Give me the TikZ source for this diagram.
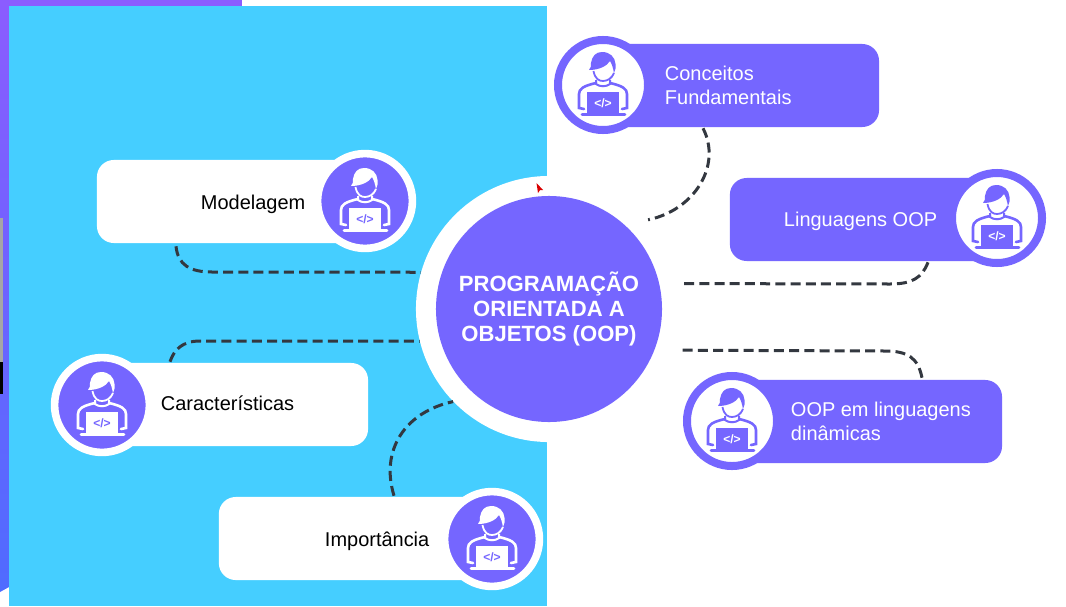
\documentclass[tikz,border=0pt]{standalone}
\usepackage{fontspec}
\setmainfont{Liberation Sans}
\usetikzlibrary{calc}
\definecolor{skyback}{HTML}{45CEFF}
\definecolor{oopviolet}{HTML}{7566FF}
\definecolor{stripviolet}{HTML}{8B5CFF}
\definecolor{stripblue}{HTML}{4F6BFF}
\definecolor{linkgray}{HTML}{333840}
\tikzset{
	pillwhite/.style={shape=rectangle, rounded corners=0.42cm, fill=white, minimum height=2.075cm},
	pillviolet/.style={shape=rectangle, rounded corners=0.42cm, fill=oopviolet, minimum height=2.075cm},
	iconwhite/.style={shape=circle, fill=oopviolet, draw=white, line width=0.19cm, minimum size=2.37cm},
	iconviolet/.style={shape=circle, fill=white, draw=oopviolet, line width=0.2cm, minimum size=2.25cm},
	itemtext/.style={font=\fontsize{14.2}{17}\selectfont, align=left},
	linkdash/.style={draw=linkgray, line width=0.075cm, dash pattern=on 0.25cm off 0.13cm},
	codetag/.style={inner sep=0pt, font=\fontsize{8.6}{9}\selectfont\bfseries},
}
% coder figure: name, x, y, line colour, colour behind it
\newcommand{\codericon}[5]{
	\begin{scope}[shift={(#2,#3)}]
		\fill[#4] (-14,-15) .. controls (-12,-17) and (-12,-19) .. (-12,-22) .. controls (-11,-29) and (-7,-33) .. (-1,-33) .. controls (7,-33) and (12,-28) .. (12.5,-21) .. controls (13,-18) and (12.5,-15) .. (11,-12) .. controls (10,-17) and (9,-21) .. (7,-24) .. controls (4,-19) and (-4,-15) .. (-14,-15);
		\draw[#4, line width=0.045cm] (-9.5,-14) .. controls (-8,-6) and (-4,-4) .. (0,-4) .. controls (5,-4) and (9,-7) .. (11,-12);
		\draw[#4, line width=0.05cm] (-7,-5) -- (-7,-1) .. controls (-3,2) and (3,2) .. (7,-1) -- (7,-5);
		\draw[#4, line width=0.065cm, line cap=round] (-19,24) -- (-24,23) -- (-24,9) .. controls (-24,4) and (-20,1) .. (-7,-2);
		\draw[#4, line width=0.065cm, line cap=round] (19,24) -- (24,23) -- (24,9) .. controls (24,4) and (20,1) .. (7,-2);
		\fill[#4] (-16,7) rectangle (16,28);
		\draw[#4, line width=0.065cm, line cap=round] (-21,29.5) -- (22,29.5);
		\node[codetag, text=#5] (#1code) at (0,18) {</>};
	\end{scope}
}

\begin{document}
\begin{tikzpicture}[x=0.025cm, y=-0.025cm]
	\useasboundingbox (0,0) rectangle (1066,606);
	\fill[white] (0,0) rectangle (1066,606);

	% what is left of the slide behind
	\shade[top color=stripviolet, bottom color=stripblue] (0,0) -- (9,0) -- (9,587) -- (0,592) -- cycle;
	\fill[stripviolet] (0,0) rectangle (242,6);
	\fill[gray!70] (0,218) rectangle (3,362);
	\fill[black] (0,362) rectangle (3,394);
	\fill[skyback] (9,6) rectangle (547,606);

	% centre
	\draw (549,309) node[shape=circle, fill=white, inner sep=0pt, minimum size=6.65cm](ring){};
	\fill[white] (547,176) rectangle (560,442);
	\draw (549,309) node[shape=circle, fill=oopviolet, inner sep=0pt, minimum size=5.65cm, text=white, align=center, font=\fontsize{15.7}{17.5}\selectfont\bfseries](hub){PROGRAMAÇÃO\\ORIENTADA A\\OBJETOS (OOP)};

	% left items
	\draw (231,201.5) node[pillwhite, minimum width=6.7cm](model){};
	\draw (365,201) node[iconwhite](modelicon){};
	\codericon{model}{365}{201}{white}{oopviolet}
	\draw (196,204) node[itemtext, anchor=west](modeltext){Modelagem};

	\draw (235,404.5) node[pillwhite, minimum width=6.65cm](carac){};
	\draw (102,405) node[iconwhite](caracicon){};
	\codericon{carac}{102}{405}{white}{oopviolet}
	\draw (156,403.5) node[itemtext, anchor=west](caractext){Características};

	\draw (355.5,538.5) node[pillwhite, minimum width=6.83cm](impor){};
	\draw (492,539) node[iconwhite](imporicon){};
	\codericon{impor}{492}{539}{white}{oopviolet}
	\draw (320,541) node[itemtext, anchor=west](importext){Importância};

	% right items
	\draw (741,85.5) node[pillviolet, minimum width=6.9cm](conc){};
	\draw (603,85) node[iconviolet](concicon){};
	\codericon{conc}{603}{85}{oopviolet}{white}
	\draw (660,85.5) node[itemtext, anchor=west, text=white](conctext){Conceitos\\Fundamentais};

	\draw (863.5,219.5) node[pillviolet, minimum width=6.68cm](ling){};
	\draw (997,218) node[iconviolet](lingicon){};
	\codericon{ling}{997}{218}{oopviolet}{white}
	\draw (779,221) node[itemtext, anchor=west, text=white](lingtext){Linguagens OOP};

	\draw (867,421.5) node[pillviolet, minimum width=6.75cm](dyna){};
	\draw (732,421) node[iconviolet](dynaicon){};
	\codericon{dyna}{732}{421}{oopviolet}{white}
	\draw (786,421.5) node[itemtext, anchor=west, text=white](dynatext){OOP em linguagens\\dinâmicas};

	% links
	\draw[linkdash] ($(model.south)+(-55,3)$) .. controls (178,265) and (190,272) .. (212,272) -- (ring.164);
	\draw[linkdash] ($(carac.north)+(-65,-1)$) .. controls (174,350) and (182,341) .. (200,341) -- (ring.194);
	\draw[linkdash] ($(impor.north)+(38.5,-1)$) .. controls (380,450) and (405,412) .. (ring.224);
	\draw[linkdash] ($(conc.south)+(-38,1)$) .. controls (722,165) and (695,210) .. (ring.42);
	\draw[linkdash] ($(ling.south)+(64.5,1)$) .. controls (922,278) and (912,284) .. (890,284) -- (ring.11);
	\draw[linkdash] ($(dyna.north)+(55,-2)$) .. controls (918,358) and (908,351) .. (885,351) -- ($(ring.342)+(5,0)$);

	% pointer
	\fill[red!85!black] (536.5,183) -- (538,193) -- (540,190) -- (543,190) -- cycle;
\end{tikzpicture}
\end{document}
